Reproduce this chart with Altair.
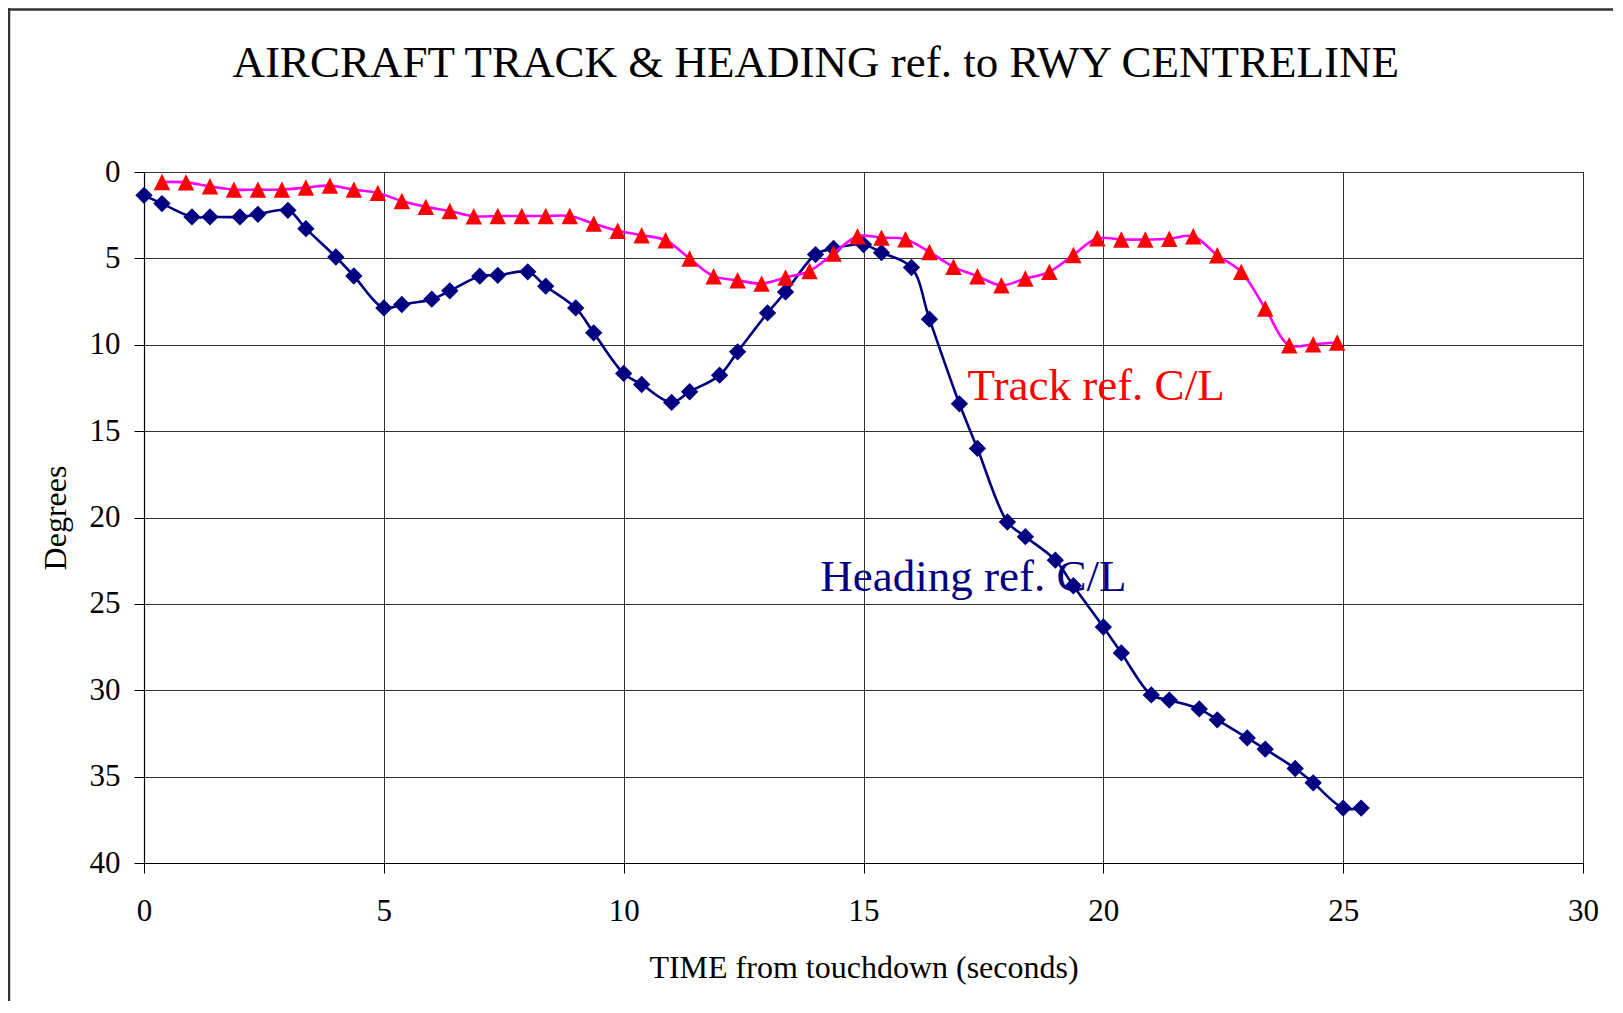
import altair as alt
import pandas as pd

# Heading ref. C/L (navy diamonds)
heading_time = [0, 0.375, 1, 1.375, 2, 2.375, 3, 3.375, 4, 4.375,
                5, 5.375, 6, 6.375, 7, 7.375, 8, 8.375, 9, 9.375,
                10, 10.375, 11, 11.375, 12, 12.375, 13, 13.375, 14, 14.375,
                15, 15.375, 16, 16.375, 17, 17.375, 18, 18.375, 19, 19.375,
                20, 20.375, 21, 21.375, 22, 22.375, 23, 23.375, 24, 24.375,
                25, 25.375]
heading_deg = [1.35, 1.83, 2.6, 2.6, 2.6, 2.45, 2.22, 3.28, 4.92, 6.02,
               7.87, 7.67, 7.36, 6.88, 6.03, 5.98, 5.78, 6.61, 7.87, 9.31,
               11.66, 12.3, 13.34, 12.72, 11.76, 10.41, 8.16, 6.94, 4.78, 4.43,
               4.2, 4.67, 5.53, 8.52, 13.42, 16.0, 20.26, 21.11, 22.47, 23.95,
               26.34, 27.84, 30.27, 30.57, 31.08, 31.71, 32.76, 33.41, 34.53, 35.36,
               36.82, 36.82]

# Track ref. C/L (red triangles, magenta line)
track_time = [0.375, 0.875, 1.375, 1.875, 2.375, 2.875, 3.375, 3.875, 4.375, 4.875,
              5.375, 5.875, 6.375, 6.875, 7.375, 7.875, 8.375, 8.875, 9.375, 9.875,
              10.375, 10.875, 11.375, 11.875, 12.375, 12.875, 13.375, 13.875, 14.375, 14.875,
              15.375, 15.875, 16.375, 16.875, 17.375, 17.875, 18.375, 18.875, 19.375, 19.875,
              20.375, 20.875, 21.375, 21.875, 22.375, 22.875, 23.375, 23.875, 24.375, 24.875]
track_deg = [0.58, 0.6, 0.83, 1.02, 1.02, 1.02, 0.9, 0.79, 1.02, 1.21,
             1.68, 2.02, 2.26, 2.56, 2.55, 2.55, 2.55, 2.55, 2.99, 3.4,
             3.66, 3.95, 5.01, 6.03, 6.27, 6.46, 6.11, 5.73, 4.72, 3.72,
             3.8, 3.89, 4.63, 5.49, 6.03, 6.56, 6.17, 5.78, 4.8, 3.84,
             3.91, 3.91, 3.86, 3.72, 4.82, 5.78, 7.9, 10.03, 9.97, 9.87]

# Series labels placed inside the plot
label_text = ["Track ref. C/L", "Heading ref. C/L"]
label_time = [17.17, 14.1]
label_deg = [13.2, 24.25]
label_color = ["#FF0000", "#000080"]

x_ticks = [0, 5, 10, 15, 20, 25, 30]
y_ticks = [0, 5, 10, 15, 20, 25, 30, 35, 40]

FONT = "Liberation Serif"
W, H = 1439, 691

df_h = pd.DataFrame({"time": heading_time, "deg": heading_deg})
df_t = pd.DataFrame({"time": track_time, "deg": track_deg})
df_l = pd.DataFrame({"time": label_time, "deg": label_deg,
                     "text": label_text, "color": label_color})
one = pd.DataFrame({"a": [0]})

x_enc = alt.X("time:Q",
              scale=alt.Scale(domain=[0, 30], nice=False, zero=False),
              axis=alt.Axis(values=x_ticks, title="TIME from touchdown (seconds)",
                            titleX=W / 2, titleY=114.5, titleBaseline="alphabetic",
                            titleAlign="center", labelPadding=23))
y_enc = alt.Y("deg:Q",
              scale=alt.Scale(domain=[0, 40], nice=False, reverse=True),
              axis=alt.Axis(values=y_ticks, title="Degrees",
                            titleX=-79, titleY=H / 2, titleAngle=-90,
                            titleBaseline="alphabetic", titleAlign="center",
                            labelPadding=14))

heading_line = alt.Chart(df_h).mark_line(
    color="#000080", strokeWidth=2.6, interpolate="catmull-rom"
).encode(x=x_enc, y=y_enc)
heading_pts = alt.Chart(df_h).mark_point(
    shape="diamond", filled=True, color="#000080", size=300, opacity=1
).encode(x="time:Q", y="deg:Q")

track_line = alt.Chart(df_t).mark_line(
    color="#FF00FF", strokeWidth=2.6, interpolate="catmull-rom"
).encode(x="time:Q", y="deg:Q")
track_pts = alt.Chart(df_t).mark_point(
    shape="M0,-1L1,1L-1,1Z", filled=True, color="#FF0000", size=270, opacity=1
).encode(x="time:Q", y="deg:Q")

labels = alt.Chart(df_l).mark_text(
    font=FONT, fontSize=45, align="left", baseline="alphabetic"
).encode(x="time:Q", y="deg:Q", text="text:N",
         color=alt.Color("color:N", scale=None))

title = alt.Chart(one).mark_text(
    text="AIRCRAFT TRACK & HEADING ref. to RWY CENTRELINE",
    font=FONT, fontSize=45, align="center", baseline="alphabetic", color="black"
).encode(x=alt.value(671.7), y=alt.value(-94.7))

frame_top = alt.Chart(one).mark_rule(color="#333333", strokeWidth=2.5).encode(
    x=alt.value(-136), x2=alt.value(W + 40), y=alt.value(-162.5))
frame_left = alt.Chart(one).mark_rule(color="#333333", strokeWidth=2.5).encode(
    x=alt.value(-135), y=alt.value(-164), y2=alt.value(H + 150))

chart = alt.layer(
    heading_line, heading_pts, track_line, track_pts, labels, title,
    frame_top, frame_left
).properties(
    width=W, height=H,
    autosize=alt.AutoSizeParams(type="none"),
    padding={"left": 136, "top": 164, "right": 30, "bottom": 138},
    background="white",
).configure_view(
    stroke="#222222", strokeWidth=1
).configure_axis(
    grid=True, gridColor="#333333", gridWidth=1, gridOpacity=1,
    domainColor="black", domainWidth=1.2,
    tickColor="black", tickSize=10, tickWidth=1,
    labelFont=FONT, labelFontSize=31, labelColor="black",
    titleFont=FONT, titleFontSize=32, titleFontWeight="normal", titleColor="black",
    labelFlush=False, labelOverlap=False,
)

chart.save("out.html", embed_options={"renderer": "svg", "actions": False})
